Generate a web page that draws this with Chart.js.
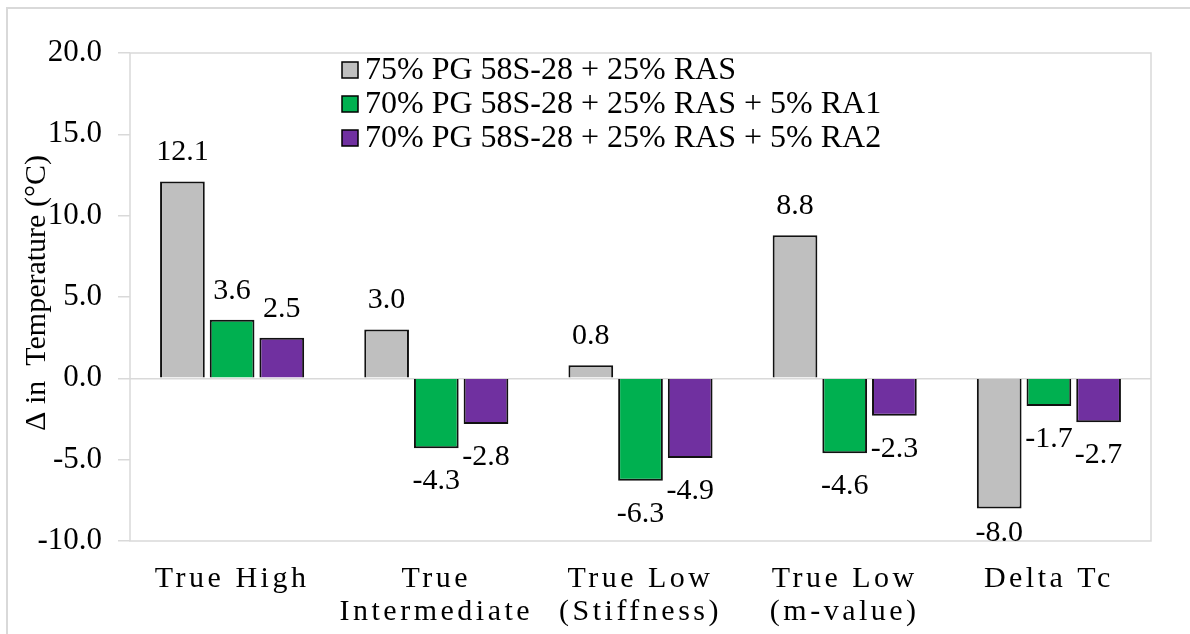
<!DOCTYPE html>
<html>
<head>
<meta charset="utf-8">
<title>Δ in Temperature by binder blend</title>
<script src="https://cdn.jsdelivr.net/npm/chart.js@4.4.1/dist/chart.umd.min.js"></script>
<style>
  html, body { margin: 0; padding: 0; background: #ffffff; overflow: hidden; }
  #wrap { position: relative; width: 1190px; height: 634px; }
</style>
</head>
<body>
<div id="wrap"><canvas id="chart" width="1190" height="634"></canvas></div>
<script>
// Categories (multi-line axis labels)
const categories = [
  ['True High'],
  ['True', 'Intermediate'],
  ['True Low', '(Stiffness)'],
  ['True Low', '(m-value)'],
  ['Delta Tc']
];

// Series names
const seriesNames = [
  '75% PG 58S-28 + 25% RAS',
  '70% PG 58S-28 + 25% RAS + 5% RA1',
  '70% PG 58S-28 + 25% RAS + 5% RA2'
];

// Change in temperature (°C)
const rasValues = [12.1, 3.0, 0.8, 8.8, -8.0];
const ra1Values = [3.6, -4.3, -6.3, -4.6, -1.7];
const ra2Values = [2.5, -2.8, -4.9, -2.3, -2.7];

// Value axis
const yMin = -10;
const yMax = 20;
const yStep = 5;

const seriesColors = ['#bfbfbf', '#00b050', '#7030a0'];
const FONT = '"Liberation Serif", "Times New Roman", serif';
const GRID = '#d9d9d9';

// Outer frame, plot box, value labels, legend and axis title
const decorations = {
  id: 'decorations',
  beforeDraw(chart) {
    const xs = chart.scales.x;
    if (!xs._spacedLabels) {
      const orig = xs.drawLabels.bind(xs);
      xs.drawLabels = function (area) {
        const c = this.ctx;
        c.save();
        c.letterSpacing = '3.5px';
        orig(area);
        c.restore();
      };
      xs._spacedLabels = true;
    }
    const c = chart.ctx;
    c.save();
    c.strokeStyle = GRID;
    c.lineWidth = 2;
    c.beginPath();
    c.moveTo(7, 634);
    c.lineTo(7, 8);
    c.lineTo(1190, 8);
    c.stroke();
    c.restore();
  },
  afterDatasetsDraw(chart) {
    const c = chart.ctx;
    const a = chart.chartArea;
    // plot area box
    c.save();
    c.strokeStyle = GRID;
    c.lineWidth = 1.5;
    c.strokeRect(a.left, a.top, a.right - a.left, a.bottom - a.top);
    c.restore();

    // value labels
    c.save();
    c.font = '30px ' + FONT;
    c.fillStyle = '#000';
    c.textAlign = 'center';
    c.textBaseline = 'middle';
    chart.data.datasets.forEach((ds, di) => {
      const meta = chart.getDatasetMeta(di);
      meta.data.forEach((bar, i) => {
        const v = ds.data[i];
        let y;
        if (v >= 0) {
          y = bar.y - 29;
        } else {
          y = Math.min(bar.y + 33, a.bottom - 8);
        }
        c.fillText(v.toFixed(1), bar.x, y);
      });
    });
    c.restore();

    // legend
    c.save();
    c.font = '32px ' + FONT;
    c.textAlign = 'left';
    c.textBaseline = 'middle';
    const lx = 342, ly = 70, step = 34, box = 16;
    chart.data.datasets.forEach((ds, di) => {
      const y = ly + di * step;
      c.fillStyle = ds.backgroundColor;
      c.fillRect(lx, y - box / 2, box, box);
      c.strokeStyle = '#000';
      c.lineWidth = 1.5;
      c.strokeRect(lx, y - box / 2, box, box);
      c.fillStyle = '#000';
      c.fillText(ds.label, lx + 23, y + 1);
    });
    c.restore();

    // value axis title, centred on the plot height
    c.save();
    c.font = '30px ' + FONT;
    c.fillStyle = '#000';
    c.textAlign = 'center';
    c.textBaseline = 'middle';
    c.translate(37, (a.top + a.bottom) / 2 - 4);
    c.rotate(-Math.PI / 2);
    c.fillText('Δ in  Temperature (°C)', 0, 0);
    c.restore();
  }
};

const barStyle = {
  borderColor: '#111111',
  borderWidth: 2,
  categoryPercentage: 0.73,
  barPercentage: 0.9
};

new Chart(document.getElementById('chart'), {
  type: 'bar',
  data: {
    labels: categories,
    datasets: [
      Object.assign({ label: seriesNames[0], data: rasValues, backgroundColor: seriesColors[0] }, barStyle),
      Object.assign({ label: seriesNames[1], data: ra1Values, backgroundColor: seriesColors[1] }, barStyle),
      Object.assign({ label: seriesNames[2], data: ra2Values, backgroundColor: seriesColors[2] }, barStyle)
    ]
  },
  options: {
    responsive: false,
    animation: false,
    devicePixelRatio: 1,
    layout: { padding: { top: 53, right: 39, left: 0, bottom: 0 } },
    plugins: {
      legend: { display: false },
      tooltip: { enabled: false }
    },
    scales: {
      x: {
        grid: { display: false, drawTicks: false },
        border: { display: false },
        ticks: {
          color: '#000',
          font: { family: FONT, size: 30, lineHeight: 1.1 },
          padding: 22,
          autoSkip: false,
          maxRotation: 0
        },
        afterFit(scale) { scale.height = 93; }
      },
      y: {
        min: yMin,
        max: yMax,
        border: { display: false },
        grid: {
          drawOnChartArea: true,
          drawTicks: true,
          tickLength: 12,
          tickColor: GRID,
          lineWidth: 1.5,
          color: (ctx) => (ctx.tick && ctx.tick.value === 0 ? GRID : 'rgba(0,0,0,0)')
        },
        ticks: {
          stepSize: yStep,
          color: '#000',
          padding: 16,
          font: { family: FONT, size: 31 },
          callback: (v) => Number(v).toFixed(1)
        },
        afterFit(scale) { scale.width = 130; }
      }
    }
  },
  plugins: [decorations]
});
</script>
</body>
</html>
